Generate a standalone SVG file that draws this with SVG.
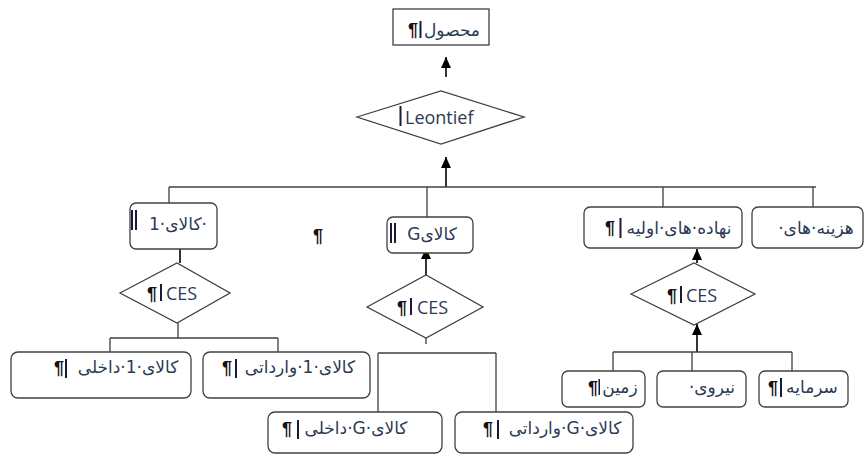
<svg xmlns="http://www.w3.org/2000/svg" width="864" height="457" viewBox="0 0 864 457">
<defs>
<marker id="ah" viewBox="0 0 10 10" refX="10" refY="5" markerWidth="11" markerHeight="10" markerUnits="userSpaceOnUse" orient="auto" preserveAspectRatio="none">
<path d="M0,0 L10,5 L0,10 z" fill="#000"/>
</marker>
<style>
.bx{fill:#fff;stroke:#404040;stroke-width:1.3}
.ln{fill:none;stroke:#404040;stroke-width:1.3}
.ar{fill:none;stroke:#000;stroke-width:1.6;marker-end:url(#ah)}
.fa{font-family:"DejaVu Sans",sans-serif;font-size:17px;fill:#2b3a55;direction:rtl;text-anchor:middle}
.la{font-family:"Open Sans","Liberation Sans",sans-serif;font-size:18px;fill:#2b3a55}
.pm{font-family:"Liberation Sans",sans-serif;font-size:18px;font-weight:bold;fill:#1a1010}
.bar{fill:#1a1a3a}
</style>
</defs>
<rect width="864" height="457" fill="#fff"/>
<g id="connectors">
<path class="ar" d="M446,77 V57"/>
<path class="ar" d="M446,187 V157"/>
<path class="ln" d="M169,187 H816 M169,187 V203 M427,187 V217 M663,187 V207 M813,187 V207"/>
<path class="ar" d="M180,263 V235"/>
<path class="ln" d="M178,323 V338 M110,338 H278 M110,338 V352 M278,338 V352"/>
<path class="ar" d="M426,275 V248"/>
<path class="ln" d="M426,338 V344 M378,353 H496 M378,353 V412 M496,353 V412"/>
<path class="ar" d="M697,263 V249"/>
<path class="ar" d="M697,352 V324"/>
<path class="ln" d="M613,352 H792 M613,352 V371 M692,352 V371 M792,352 V371"/>
</g>
<g id="n-output">
<rect class="bx" x="393" y="9" width="96" height="36"/>
<text class="pm" x="408" y="36">¶</text>
<rect class="bar" x="419.5" y="21" width="2" height="17"/>
<text class="fa" x="452" y="36">محصول</text>
</g>
<g id="n-leontief">
<polygon class="bx" points="357,117 441,91 524,117 441,144"/>
<rect class="bar" x="399.5" y="106" width="2" height="20"/>
<text class="la" x="405" y="124">Leontief</text>
</g>
<g id="n-good1">
<rect class="bx" x="130" y="203" width="87" height="46" rx="6"/>
<rect class="bar" x="131" y="210" width="2" height="20" fill="#8a1a1a"/>
<rect class="bar" x="135" y="210" width="2" height="20"/>
<text class="fa" x="178" y="230">·کالای·1</text>
</g>
<g id="n-stray">
<text class="pm" x="313" y="242">¶</text>
</g>
<g id="n-goodG">
<rect class="bx" x="387" y="217" width="86" height="36" rx="6"/>
<rect class="bar" x="390" y="223" width="2" height="20"/>
<rect class="bar" x="394" y="223" width="2" height="20" fill="#8a1a1a"/>
<text class="fa" x="432" y="240">کالایG</text>
</g>
<g id="n-primary">
<rect class="bx" x="584" y="207" width="158" height="41" rx="6"/>
<text class="pm" x="605" y="234">¶</text>
<rect class="bar" x="619.5" y="218" width="2" height="20"/>
<text class="fa" x="679" y="234">نهاده·های·اولیه</text>
</g>
<g id="n-costs">
<rect class="bx" x="752" y="207" width="111" height="41" rx="6"/>
<text class="fa" x="816" y="234">هزینه·های·</text>
</g>
<g id="n-ces1">
<polygon class="bx" points="120,293 177,263 230,293 177,323"/>
<text class="pm" x="147" y="300">¶</text>
<rect class="bar" x="160" y="284" width="2" height="17"/>
<text class="la" x="166" y="300">CES</text>
</g>
<g id="n-cesG">
<polygon class="bx" points="367,307 426,275 483,307 426,338"/>
<text class="pm" x="397" y="314">¶</text>
<rect class="bar" x="410" y="298" width="2" height="17"/>
<text class="la" x="417" y="314">CES</text>
</g>
<g id="n-ces3">
<polygon class="bx" points="631,294 694,263 755,294 694,325"/>
<text class="pm" x="667" y="302">¶</text>
<rect class="bar" x="680" y="286" width="2" height="17"/>
<text class="la" x="686" y="302">CES</text>
</g>
<g id="n-dom1">
<rect class="bx" x="11" y="352" width="180" height="46" rx="7"/>
<text class="pm" x="54" y="374">¶</text>
<rect class="bar" x="65" y="359" width="2" height="19"/>
<text class="fa" x="128" y="373">کالای·1·داخلی</text>
</g>
<g id="n-imp1">
<rect class="bx" x="203" y="352" width="167" height="46" rx="7"/>
<text class="pm" x="222" y="374">¶</text>
<rect class="bar" x="235" y="359" width="2" height="19"/>
<text class="fa" x="300" y="373">کالای·1·وارداتی</text>
</g>
<g id="n-domG">
<rect class="bx" x="268" y="412" width="174" height="41" rx="7"/>
<text class="pm" x="282" y="435">¶</text>
<rect class="bar" x="297" y="420" width="2" height="19"/>
<text class="fa" x="356" y="434">کالای·G·داخلی</text>
</g>
<g id="n-impG">
<rect class="bx" x="455" y="412" width="178" height="41" rx="7"/>
<text class="pm" x="483" y="435">¶</text>
<rect class="bar" x="497" y="420" width="2" height="19"/>
<text class="fa" x="565" y="434">کالای·G·وارداتی</text>
</g>
<g id="n-land">
<rect class="bx" x="562" y="371" width="83" height="36" rx="6"/>
<text class="pm" x="588" y="394">¶</text>
<rect class="bar" x="598.5" y="379" width="1.5" height="16"/>
<text class="fa" x="620" y="393">زمین</text>
</g>
<g id="n-labour">
<rect class="bx" x="657" y="371" width="89" height="36" rx="6"/>
<text class="fa" x="712" y="393">نیروی·</text>
</g>
<g id="n-capital">
<rect class="bx" x="759" y="371" width="89" height="36" rx="6"/>
<text class="pm" x="768" y="394">¶</text>
<rect class="bar" x="780" y="378" width="2" height="19"/>
<text class="fa" x="812" y="393">سرمایه</text>
</g>
</svg>
